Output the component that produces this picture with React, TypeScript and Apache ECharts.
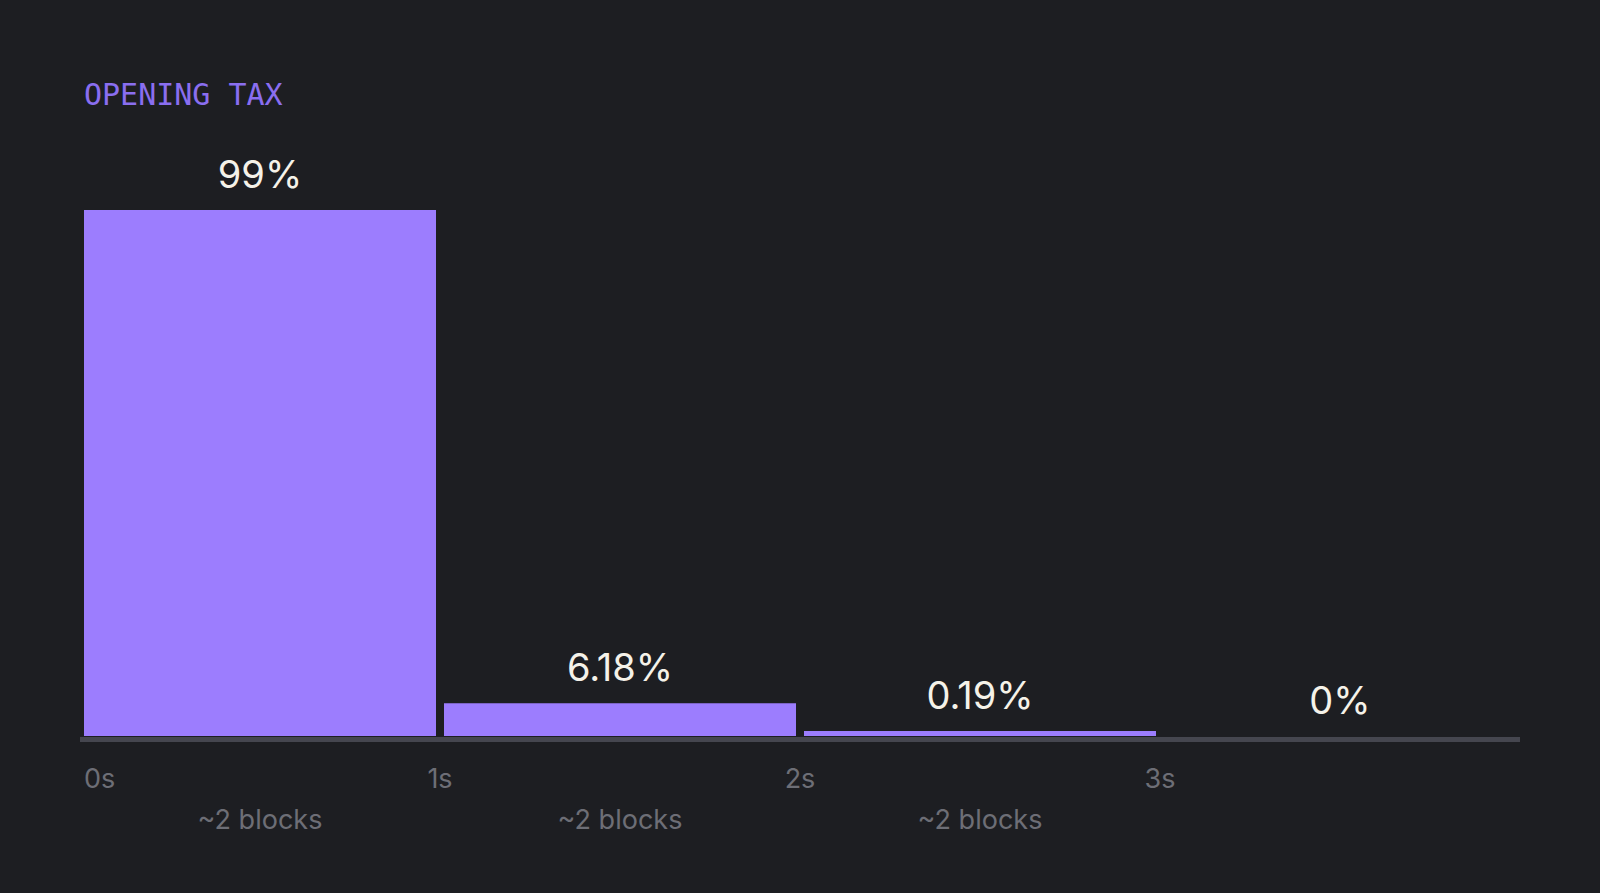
import React, { useEffect, useRef } from "react";
import * as echarts from "echarts";

const categories = ["0s–1s", "1s–2s", "2s–3s", "3s+"];
const values = [99, 6.18, 0.19, 0];
const timeTicks = ["0s", "1s", "2s", "3s"];
const blockLabels = ["~2 blocks", "~2 blocks", "~2 blocks", ""];
const titleText = "OPENING TAX";

const BG = "#1d1e22";
const BAR = "#9c7dfe";
const TITLE = "#8a6ef0";
const VALUE_TEXT = "#f5f2e9";
const MUTED = "#6d6e76";
const AXIS = "#45464f";

export default function App() {
  const ref = useRef<HTMLDivElement>(null);

  useEffect(() => {
    if (!ref.current) return;
    const chart = echarts.init(ref.current, null, { renderer: "svg" });
    chart.setOption({
      animation: false,
      backgroundColor: BG,
      title: {
        text: titleText,
        left: 79,
        top: 74,
        textStyle: {
          fontFamily: "DejaVu Sans Mono",
          fontSize: 30,
          fontWeight: "normal",
          color: TITLE,
        },
      },
      grid: { left: 80, right: 80, top: 210, bottom: 157 },
      xAxis: [
        {
          type: "category",
          data: categories,
          position: "bottom",
          offset: 3,
          axisLine: {
            show: true,
            onZero: false,
            lineStyle: { color: AXIS, width: 5, cap: "butt" },
          },
          axisTick: { show: false },
          axisLabel: {
            interval: 0,
            margin: 67,
            color: MUTED,
            fontSize: 27,
            fontFamily: "Inter",
            formatter: (_v: string, i: number) => blockLabels[i] ?? "",
          },
          splitLine: { show: false },
        },
        {
          type: "value",
          min: 0,
          max: 4,
          interval: 1,
          position: "bottom",
          offset: 3,
          axisLine: { show: false, onZero: false },
          axisTick: { show: false },
          splitLine: { show: false },
          axisLabel: {
            margin: 26,
            color: MUTED,
            fontSize: 27,
            fontFamily: "Inter",
            alignMinLabel: "left",
            formatter: (v: number) => (v === 0 ? "{first|0s}" : timeTicks[v] ?? ""),
            rich: {
              first: {
                color: MUTED,
                fontSize: 27,
                fontFamily: "Inter",
                padding: [0, 0, 0, 4],
              },
            },
          },
        },
      ],
      yAxis: {
        type: "value",
        min: 0,
        max: 99,
        show: false,
        splitLine: { show: false },
      },
      series: [
        {
          type: "bar",
          xAxisIndex: 0,
          barWidth: 352,
          barMinHeight: 5,
          itemStyle: { color: BAR },
          label: {
            show: true,
            position: "top",
            distance: 17,
            color: VALUE_TEXT,
            fontSize: 38,
            lineHeight: 38,
            fontFamily: "Inter",
            formatter: (p: any) => `${p.value}%`,
          },
          data: values.map((v) =>
            v === 0
              ? { value: v, itemStyle: { color: "transparent" }, label: { distance: 12 } }
              : { value: v }
          ),
        },
      ],
    });
    return () => chart.dispose();
  }, []);

  return (
    <div
      ref={ref}
      style={{ position: "fixed", left: 0, top: 0, width: 1600, height: 893 }}
    />
  );
}
